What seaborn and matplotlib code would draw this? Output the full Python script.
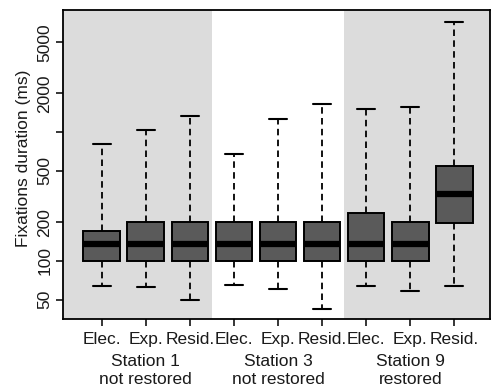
import numpy as np
import pandas as pd
import seaborn as sns
import matplotlib
matplotlib.use("Agg")
import matplotlib.pyplot as plt
from matplotlib.ticker import NullLocator, FixedLocator
import matplotlib.transforms as mtrans

# ---- data (five-number summaries, ms) ----
groups = ["S1 Elec.", "S1 Exp.", "S1 Resid.",
          "S3 Elec.", "S3 Exp.", "S3 Resid.",
          "S9 Elec.", "S9 Exp.", "S9 Resid."]
tick_labels = ["Elec.", "Exp.", "Resid.", "Elec.", "Exp.", "Resid.", "Elec.", "Exp.", "Resid."]
mins    = [64, 63, 50, 65, 61, 42, 64, 58, 64]
q1s     = [100, 100, 100, 100, 100, 100, 100, 100, 196]
medians = [135, 135, 135, 135, 135, 135, 135, 135, 332]
q3s     = [171, 200, 200, 200, 200, 200, 235, 200, 551]
maxs    = [807, 1040, 1346, 674, 1268, 1652, 1524, 1574, 7228]
station_names = ["Station 1", "Station 3", "Station 9"]
station_status = ["not restored", "not restored", "restored"]
station_centers = [1, 4, 7]
yticks = [50, 100, 200, 500, 1000, 2000, 5000]
ytick_labels = ["50", "100", "200", "500", "", "2000", "5000"]

rows = []
for g, a, b, c, d, e in zip(groups, mins, q1s, medians, q3s, maxs):
    for v in (a, b, c, d, e):
        rows.append({"group": g, "value": v})
df = pd.DataFrame(rows)

sns.set_theme(style="white")
plt.rcParams["font.family"] = ["Liberation Sans", "DejaVu Sans"]

FS = 12.5
TXT = "#1a1a1a"

fig = plt.figure(figsize=(4.92, 3.88), dpi=100)
ax = fig.add_axes([63 / 492, 69 / 388, 427 / 492, 309 / 388])

gray = "#dcdcdc"
ax.axvspan(-0.877, 2.5, color=gray, zorder=0, lw=0)
ax.axvspan(5.5, 8.81, color=gray, zorder=0, lw=0)

sns.boxplot(data=df, x="group", y="value", order=groups, ax=ax,
            log_scale=True, whis=(0, 100), width=0.83, color="#5a5a5a",
            saturation=1, linecolor="black", linewidth=1.4, fliersize=0,
            medianprops={"linewidth": 4.5, "color": "black"},
            whiskerprops={"linestyle": (0, (3.6, 2.4)), "linewidth": 1.3},
            capprops={"linewidth": 1.5})

ax.set_xlim(-0.877, 8.81)
ax.set_ylim(35.4, 8900)
ax.yaxis.set_major_locator(FixedLocator(yticks))
ax.yaxis.set_minor_locator(NullLocator())
ax.set_yticklabels(ytick_labels, rotation=90, va="center", fontsize=FS)
ax.set_xticks(range(len(groups)))
ax.set_xticklabels(tick_labels, fontsize=FS)
ax.tick_params(axis="both", direction="out", length=5, width=1.1, color="black",
               labelcolor=TXT)
ax.tick_params(axis="y", pad=2.5)
ax.tick_params(axis="x", pad=4.5)
ax.tick_params(bottom=True, left=True)
ax.set_xlabel("")
ax.set_ylabel("")
for s in ax.spines.values():
    s.set_color("black")
    s.set_linewidth(1.3)
    s.set_visible(True)

fig.text(24 / 492, 1 - 158 / 388, "Fixations duration (ms)", rotation=90,
         ha="center", va="center", fontsize=FS, color=TXT)

tr = mtrans.blended_transform_factory(ax.transData, fig.transFigure)
for c, n, st in zip(station_centers, station_names, station_status):
    ax.text(c, 1 - 361 / 388, n, transform=tr, ha="center", va="center",
            fontsize=FS, color=TXT)
    ax.text(c, 1 - 380 / 388, st, transform=tr, ha="center", va="center",
            fontsize=FS, color=TXT)

fig.savefig("out.png", dpi=100)
